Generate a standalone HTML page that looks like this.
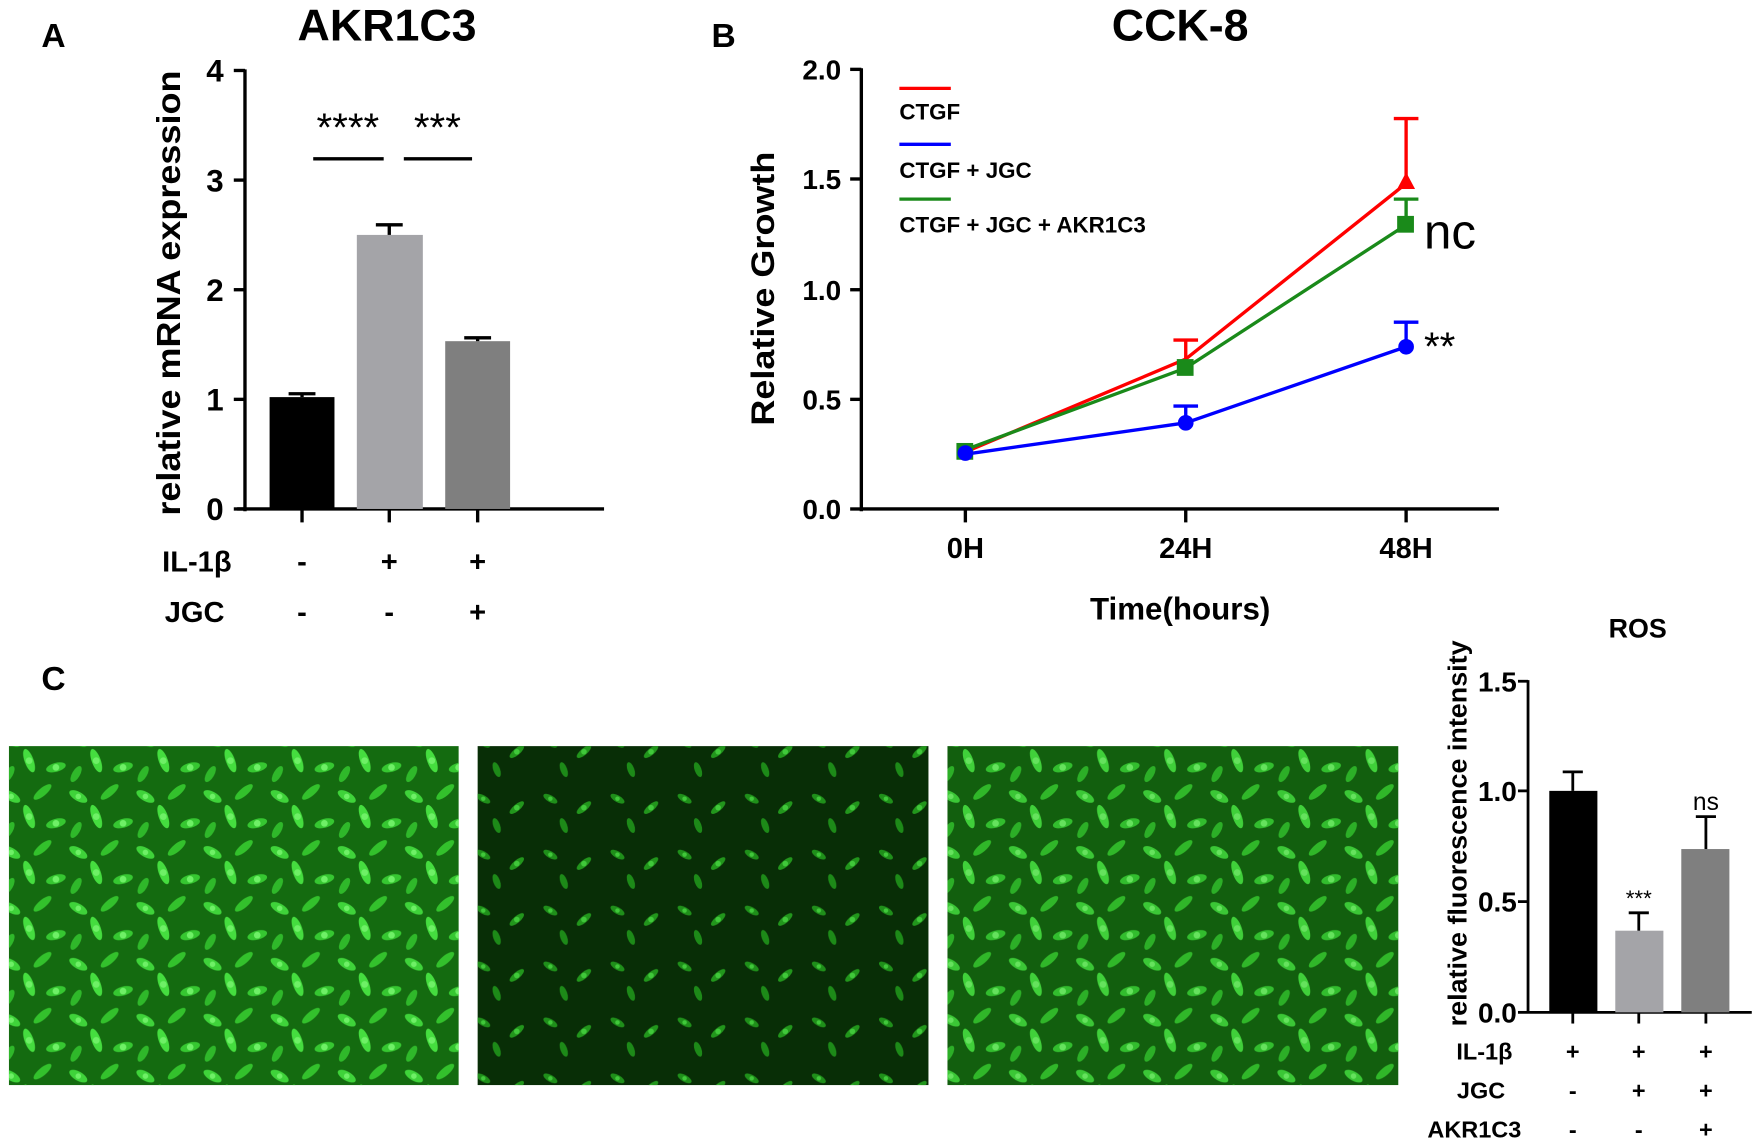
<!DOCTYPE html>
<html><head><meta charset="utf-8"><style>html,body{margin:0;padding:0;background:#fff}svg{display:block}text{font-family:"Liberation Sans",Arial,sans-serif;font-weight:bold}text.n{font-weight:normal}</style></head>
<body>
<svg width="1754" height="1141" viewBox="0 0 1568 1020" xmlns="http://www.w3.org/2000/svg">
<defs>
<pattern id="cells" width="60" height="50" patternUnits="userSpaceOnUse">
<ellipse cx="10" cy="12" rx="9" ry="4" fill="#3fd33a" transform="rotate(30 10 12)"/>
<ellipse cx="38" cy="8" rx="10" ry="3.5" fill="#33c12c" transform="rotate(-40 38 8)"/>
<ellipse cx="26" cy="30" rx="11" ry="4" fill="#45dd3f" transform="rotate(70 26 30)"/>
<ellipse cx="50" cy="36" rx="9" ry="4" fill="#36c731" transform="rotate(-15 50 36)"/>
<ellipse cx="8" cy="42" rx="8" ry="3.5" fill="#2fb82a" transform="rotate(-60 8 42)"/>
<circle cx="26" cy="30" r="3" fill="#6ef066"/><circle cx="50" cy="36" r="3" fill="#6ef066"/><circle cx="10" cy="12" r="2.5" fill="#6ef066"/>
</pattern>
<pattern id="cells2" width="60" height="50" patternUnits="userSpaceOnUse">
<ellipse cx="12" cy="14" rx="7" ry="3" fill="#1f8f1a" transform="rotate(30 12 14)"/>
<ellipse cx="42" cy="22" rx="8" ry="3" fill="#22961c" transform="rotate(-40 42 22)"/>
<ellipse cx="24" cy="38" rx="7" ry="3" fill="#1d8a18" transform="rotate(70 24 38)"/>
<circle cx="42" cy="22" r="2.5" fill="#40c83a"/><circle cx="12" cy="14" r="2" fill="#40c83a"/>
</pattern>
</defs>

<!-- Panel A -->
<text x="37" y="42" font-size="30">A</text>
<text x="346" y="36" font-size="40" text-anchor="middle">AKR1C3</text>
<g stroke="#000" stroke-width="3" fill="none">
<line x1="219" y1="62" x2="219" y2="457"/>
<line x1="212" y1="455" x2="540" y2="455"/>
<line x1="209" y1="63" x2="219" y2="63"/><line x1="209" y1="161" x2="219" y2="161"/><line x1="209" y1="259" x2="219" y2="259"/><line x1="209" y1="357" x2="219" y2="357"/><line x1="209" y1="455" x2="219" y2="455"/>
<line x1="270" y1="455" x2="270" y2="467"/><line x1="348" y1="455" x2="348" y2="467"/><line x1="427" y1="455" x2="427" y2="467"/>
<line x1="280" y1="142" x2="343" y2="142"/><line x1="361" y1="142" x2="422" y2="142"/>
</g>
<g font-size="28" text-anchor="end"><text x="200" y="73">4</text><text x="200" y="171">3</text><text x="200" y="269">2</text><text x="200" y="367">1</text><text x="200" y="465">0</text></g>
<rect x="241" y="355" width="58" height="100" fill="#000"/>
<rect x="319" y="210" width="59" height="245" fill="#a4a4a8"/>
<rect x="398" y="305" width="58" height="150" fill="#7f7f7f"/>
<g stroke="#000" stroke-width="3"><line x1="270" y1="355" x2="270" y2="352"/><line x1="258" y1="352" x2="282" y2="352"/>
<line x1="348" y1="210" x2="348" y2="201"/><line x1="336" y1="201" x2="360" y2="201"/>
<line x1="427" y1="305" x2="427" y2="302"/><line x1="415" y1="302" x2="439" y2="302"/></g>
<text class="n" x="311" y="126" font-size="36" text-anchor="middle">****</text>
<text class="n" x="391" y="126" font-size="36" text-anchor="middle">***</text>
<text transform="translate(161 262) rotate(-90)" font-size="30" text-anchor="middle" textLength="398" lengthAdjust="spacingAndGlyphs">relative mRNA expression</text>
<g font-size="26" text-anchor="middle"><text x="176" y="511">IL-1β</text><text x="174" y="556">JGC</text>
<text x="270" y="511">-</text><text x="348" y="511">+</text><text x="427" y="511">+</text>
<text x="270" y="556">-</text><text x="348" y="556">-</text><text x="427" y="556">+</text></g>

<!-- Panel B -->
<text x="636" y="42" font-size="30">B</text>
<text x="1055" y="36" font-size="40" text-anchor="middle">CCK-8</text>
<g stroke="#000" stroke-width="3"><line x1="770" y1="61" x2="770" y2="457"/><line x1="770" y1="455" x2="1340" y2="455"/>
<line x1="760" y1="62" x2="770" y2="62"/><line x1="760" y1="160" x2="770" y2="160"/><line x1="760" y1="259" x2="770" y2="259"/><line x1="760" y1="357" x2="770" y2="357"/><line x1="760" y1="455" x2="770" y2="455"/>
<line x1="863" y1="455" x2="863" y2="467"/><line x1="1060" y1="455" x2="1060" y2="467"/><line x1="1257" y1="455" x2="1257" y2="467"/></g>
<g font-size="25" text-anchor="end"><text x="752" y="71">2.0</text><text x="752" y="169">1.5</text><text x="752" y="268">1.0</text><text x="752" y="366">0.5</text><text x="752" y="464">0.0</text></g>
<g font-size="26" text-anchor="middle"><text x="863" y="499">0H</text><text x="1060" y="499">24H</text><text x="1257" y="499">48H</text></g>
<text x="1055" y="554" font-size="28" text-anchor="middle">Time(hours)</text>
<text transform="translate(692 258) rotate(-90)" font-size="29" text-anchor="middle" textLength="245" lengthAdjust="spacingAndGlyphs">Relative Growth</text>
<g stroke-width="3"><line x1="1257" y1="164" x2="1257" y2="106" stroke="#f00"/><line x1="1246" y1="106" x2="1268" y2="106" stroke="#f00"/>
<line x1="1060" y1="321" x2="1060" y2="304" stroke="#f00"/><line x1="1049" y1="304" x2="1071" y2="304" stroke="#f00"/>
<line x1="1257" y1="201" x2="1257" y2="178" stroke="#1a8a1a"/><line x1="1246" y1="178" x2="1268" y2="178" stroke="#1a8a1a"/>
<line x1="1060" y1="378" x2="1060" y2="363" stroke="#00f"/><line x1="1049" y1="363" x2="1071" y2="363" stroke="#00f"/>
<line x1="1257" y1="310" x2="1257" y2="288" stroke="#00f"/><line x1="1246" y1="288" x2="1268" y2="288" stroke="#00f"/></g>
<polyline points="863,404 1060,321 1257,164" fill="none" stroke="#f00" stroke-width="3"/>
<polyline points="863,402 1060,329 1257,201" fill="none" stroke="#1a8a1a" stroke-width="3"/>
<polyline points="863,406 1060,378 1257,310" fill="none" stroke="#00f" stroke-width="3"/>
<polygon points="1257,154 1265,169 1249,169" fill="#f00"/>
<rect x="855" y="396" width="15" height="15" fill="#1a8a1a"/><rect x="1052" y="321" width="15" height="15" fill="#1a8a1a"/><rect x="1249" y="193" width="15" height="15" fill="#1a8a1a"/>
<circle cx="863" cy="405" r="7" fill="#00f"/><circle cx="1060" cy="378" r="7" fill="#00f"/><circle cx="1257" cy="310" r="7" fill="#00f"/>
<text class="n" x="1273" y="222" font-size="44">nc</text>
<text class="n" x="1273" y="322" font-size="36">**</text>
<g stroke-width="3"><line x1="804" y1="79" x2="850" y2="79" stroke="#f00"/><line x1="804" y1="129" x2="850" y2="129" stroke="#00f"/><line x1="804" y1="178" x2="850" y2="178" stroke="#1a8a1a"/></g>
<g font-size="20"><text x="804" y="107">CTGF</text><text x="804" y="159">CTGF + JGC</text><text x="804" y="208">CTGF + JGC + AKR1C3</text></g>

<!-- Panel C -->
<text x="37" y="617" font-size="30">C</text>
<rect x="8" y="667" width="402" height="303" fill="#146b10"/><rect x="8" y="667" width="402" height="303" fill="url(#cells)"/>
<rect x="427" y="667" width="403" height="303" fill="#082e06"/><rect x="427" y="667" width="403" height="303" fill="url(#cells2)"/>
<rect x="847" y="667" width="403" height="303" fill="#125f0e"/><rect x="847" y="667" width="403" height="303" fill="url(#cells)" opacity="0.9"/>

<!-- ROS -->
<text x="1464" y="570" font-size="24" text-anchor="middle">ROS</text>
<g stroke="#000" stroke-width="2.5"><line x1="1366" y1="608" x2="1366" y2="906"/><line x1="1366" y1="905" x2="1566" y2="905"/>
<line x1="1357" y1="609" x2="1366" y2="609"/><line x1="1357" y1="707" x2="1366" y2="707"/><line x1="1357" y1="806" x2="1366" y2="806"/><line x1="1357" y1="905" x2="1366" y2="905"/>
<line x1="1406" y1="905" x2="1406" y2="915"/><line x1="1465" y1="905" x2="1465" y2="915"/><line x1="1525" y1="905" x2="1525" y2="915"/></g>
<g font-size="25" text-anchor="end"><text x="1356" y="618">1.5</text><text x="1356" y="716">1.0</text><text x="1356" y="815">0.5</text><text x="1356" y="914">0.0</text></g>
<text transform="translate(1311 745) rotate(-90)" font-size="23" text-anchor="middle" textLength="345" lengthAdjust="spacingAndGlyphs">relative fluorescence intensity</text>
<rect x="1385" y="707" width="43" height="198" fill="#000"/>
<rect x="1444" y="832" width="43" height="73" fill="#a4a4a8"/>
<rect x="1503" y="759" width="43" height="146" fill="#7f7f7f"/>
<g stroke="#000" stroke-width="2.5"><line x1="1406" y1="707" x2="1406" y2="690"/><line x1="1397" y1="690" x2="1415" y2="690"/>
<line x1="1465" y1="832" x2="1465" y2="816"/><line x1="1456" y1="816" x2="1474" y2="816"/>
<line x1="1525" y1="759" x2="1525" y2="730"/><line x1="1516" y1="730" x2="1534" y2="730"/></g>
<text class="n" x="1465" y="810" font-size="20" text-anchor="middle">***</text>
<text class="n" x="1525" y="724" font-size="22" text-anchor="middle">ns</text>
<g font-size="21" text-anchor="middle"><text x="1327" y="947">IL-1β</text><text x="1324" y="982">JGC</text><text x="1318" y="1017">AKR1C3</text>
<text x="1406" y="947">+</text><text x="1465" y="947">+</text><text x="1525" y="947">+</text>
<text x="1406" y="982">-</text><text x="1465" y="982">+</text><text x="1525" y="982">+</text>
<text x="1406" y="1017">-</text><text x="1465" y="1017">-</text><text x="1525" y="1017">+</text></g>
</svg>
</body></html>
